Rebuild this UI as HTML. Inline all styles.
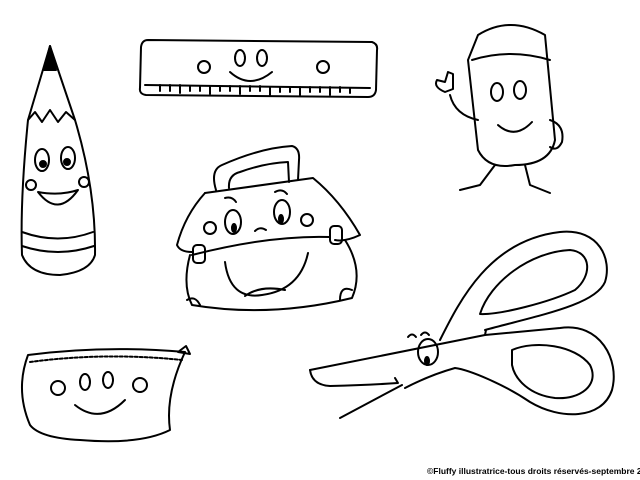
<!DOCTYPE html>
<html><head><style>
html,body{margin:0;padding:0;background:#fff;width:640px;height:480px;overflow:hidden}
svg{position:absolute;left:0;top:0}
.t{position:absolute;left:427px;top:466px;font:bold 8.5px "Liberation Sans",sans-serif;color:#000;white-space:nowrap}
</style></head><body>
<svg width="640" height="480" viewBox="0 0 640 480" fill="none" stroke="#000" stroke-width="2" stroke-linecap="round" stroke-linejoin="round">
<!-- pencil -->
<path d="M50 46 L28 120 Q20 200 22 255 Q30 275 60 275 Q90 272 95 255 Q96 190 75 120 Z"/>
<path d="M50 46 L44 70 L56 70 Z" fill="#000"/>
<path d="M28 120 L35 112 L42 122 L50 110 L58 122 L66 112 L75 120"/>
<path d="M22 232 Q58 245 93 232 M22 246 Q58 258 94 246"/>
<ellipse cx="42" cy="160" rx="7" ry="11"/><ellipse cx="68" cy="158" rx="7" ry="11"/>
<circle cx="43" cy="164" r="3" fill="#000"/><circle cx="67" cy="162" r="3" fill="#000"/>
<circle cx="31" cy="185" r="5"/><circle cx="84" cy="182" r="5"/>
<path d="M38 192 Q58 218 78 190 Q60 196 38 192 Z"/>
<!-- ruler -->
<path d="M148 40 L372 42 Q378 44 377 50 L376 90 Q375 97 368 97 L146 95 Q139 94 140 88 L141 47 Q142 40 148 40 Z"/>
<path d="M145 85 L370 88"/>
<path d="M160 85v6M170 85v6M180 85v8M190 86v5M200 86v5M210 86v8M220 86v5M230 86v5M240 86v8M250 86v5M260 86v5M270 87v8M280 87v5M290 87v5M300 87v8M310 87v5M320 87v5M330 87v8M340 87v5M350 88v5"/>
<circle cx="204" cy="67" r="6"/><circle cx="323" cy="67" r="6"/>
<ellipse cx="240" cy="58" rx="5" ry="8"/><ellipse cx="262" cy="58" rx="5" ry="8"/>
<path d="M230 72 Q250 90 272 72"/>
<!-- eraser -->
<path d="M478 35 Q510 15 545 35 L555 140 Q550 165 515 165 Q488 170 478 150 L468 60 Z"/>
<path d="M472 60 Q510 48 550 60"/>
<ellipse cx="497" cy="92" rx="6" ry="9"/><ellipse cx="520" cy="90" rx="6" ry="9"/>
<path d="M498 125 Q515 140 532 122"/>
<path d="M478 120 Q455 115 450 95 M445 92 q-12 -5 -8 -12 l8 2 l3 -10 l5 2 l0 15 Z"/>
<path d="M550 120 q15 5 12 22 q-5 10 -12 5"/>
<path d="M495 165 L480 185 L460 190 M525 165 L530 185 L550 193"/>
<!-- bag -->
<path d="M216 190 Q210 170 222 165 Q260 148 292 146 Q300 148 299 160 L298 180"/>
<path d="M229 188 Q228 175 240 172 Q265 163 288 162 L289 182"/>
<path d="M205 193 L313 178 Q340 200 360 235 Q345 242 335 240"/>
<path d="M205 193 Q185 215 177 245 Q180 252 192 252"/>
<path d="M192 255 Q270 235 330 237"/>
<path d="M190 255 Q182 285 192 305 Q270 318 352 298 Q364 270 345 240"/>
<rect x="193" y="245" width="12" height="18" rx="4"/><rect x="330" y="226" width="12" height="18" rx="4"/>
<ellipse cx="233" cy="222" rx="8" ry="12"/><ellipse cx="282" cy="212" rx="8" ry="12"/>
<ellipse cx="234" cy="228" rx="2" ry="4" fill="#000"/><ellipse cx="281" cy="219" rx="2" ry="4" fill="#000"/>
<path d="M225 198 Q232 196 236 202 M275 192 Q282 188 287 194 M255 231 Q260 226 266 230"/>
<circle cx="210" cy="228" r="6"/><circle cx="307" cy="220" r="6"/>
<path d="M225 262 Q230 300 262 295 Q300 290 308 253 M245 296 Q260 285 285 290"/>
<path d="M187 300 Q195 295 200 305 M352 290 Q340 285 340 300"/>
<!-- pencil case -->
<path d="M28 355 Q105 345 185 352 Q165 395 170 430 Q140 445 80 440 Q40 438 30 425 Q15 390 28 355 Z"/>
<path d="M30 362 Q105 352 182 360" stroke-dasharray="3 2"/>
<path d="M178 352 l8 -6 l4 8 Z"/>
<circle cx="58" cy="388" r="7"/><circle cx="140" cy="385" r="7"/>
<ellipse cx="85" cy="382" rx="5" ry="8"/><ellipse cx="108" cy="380" rx="5" ry="8"/>
<path d="M75 405 Q100 425 125 400"/>
<!-- scissors -->
<path d="M440 340 C460 300 490 240 560 232 C600 228 612 260 605 282 C595 305 540 315 485 330"/>
<path d="M480 314 C490 282 530 252 570 250 C592 252 592 276 575 290 C550 302 500 315 480 314 Z"/>
<path d="M310 370 L485 335 L560 328 C600 322 620 360 612 390 C602 420 560 420 530 402 C505 385 470 370 455 368 Q430 375 405 388"/>
<path d="M512 350 C535 340 575 345 590 365 C600 385 580 400 555 398 C530 395 515 380 512 365 Z"/>
<path d="M485 335 L486 330 M310 370 Q312 385 330 386 Q370 385 398 383 L395 378"/>
<path d="M340 418 L402 385"/>
<ellipse cx="428" cy="352" rx="10" ry="13"/><ellipse cx="427" cy="361" rx="2" ry="4" fill="#000"/>
<path d="M408 337 q4 -5 8 0 M421 335 q4 -5 8 0"/>
</svg>
<div class="t">©Fluffy illustratrice-tous droits réservés-septembre 2</div>
</body></html>
